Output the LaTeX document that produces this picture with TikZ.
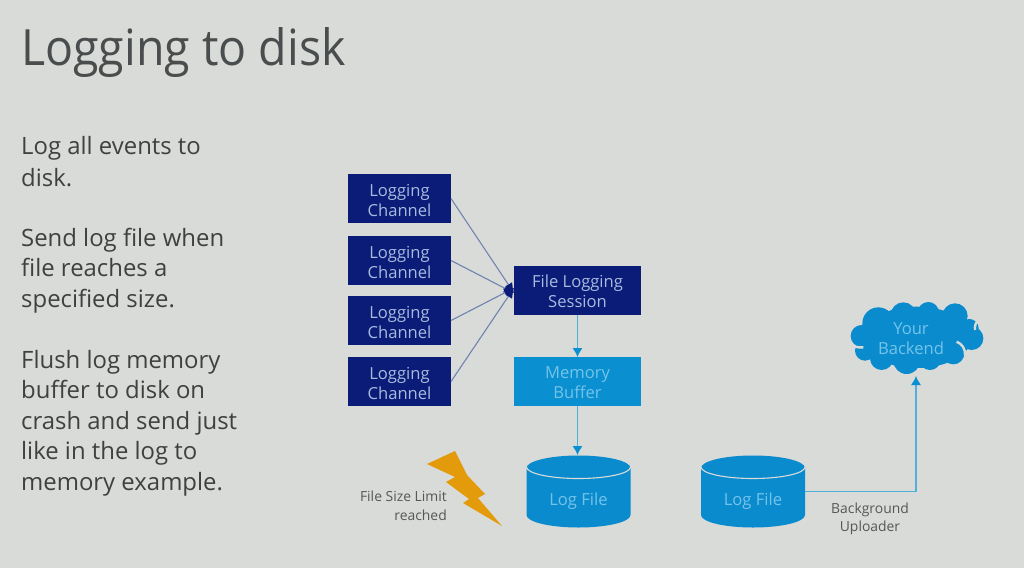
\documentclass[tikz,border=0pt]{standalone}
\usepackage{fontspec}
\setmainfont{Open Sans}
\usetikzlibrary{arrows.meta}
\definecolor{bg}{HTML}{D9DBD8}
\definecolor{navy}{HTML}{0A1C78}
\definecolor{sky}{HTML}{0A8FD0}
\definecolor{drum}{HTML}{0A8BCE}
\definecolor{navytxt}{HTML}{A9BBDD}
\definecolor{skytxt}{HTML}{74C4EA}
\definecolor{wire}{HTML}{6F83B3}
\definecolor{lwire}{HTML}{4FB0DC}
\definecolor{bolt}{HTML}{E39A0B}
\definecolor{ink}{HTML}{3E4140}
\definecolor{titleink}{HTML}{4A4D4D}
\definecolor{small}{HTML}{565857}
\tikzset{
  x=1pt,y=-1pt,
  base/.style={inner sep=0pt,outer sep=0pt,align=center,font=\fontsize{16.6}{20}\selectfont},
  navytext/.style={base,text=navytxt},
  skytext/.style={base,text=skytxt},
  channel/.style={base,fill=navy,minimum width=103,minimum height=49,label={[navytext,yshift=-1.7]center:Logging\\Channel}},
  session/.style={base,fill=navy,minimum width=127,minimum height=49,label={[navytext,yshift=-1]center:File Logging\\Session}},
  buffer/.style={base,fill=sky,minimum width=127,minimum height=49,label={[skytext,yshift=-1.5]center:Memory\\Buffer}},
  drumbox/.style={base,minimum width=104,minimum height=72,label={[skytext,yshift=-10]center:Log File}},
  para/.style={inner sep=0pt,anchor=north west,align=left,text=ink,font=\fontsize{23.9}{30.5}\selectfont},
  caption/.style={inner sep=0pt,text=small,font=\fontsize{13.9}{18.5}\selectfont},
  fan/.style={draw=wire,line width=1.1,-{Latex[length=10,width=9,color=navy]}},
  feed/.style={draw=lwire,line width=1.1,-{Latex[length=9,width=10,color=sky]}},
}
\newcommand{\drumshape}[1]{%
  \fill[drum] (#1-52,468) -- (#1-52,515) arc[start angle=180,end angle=0,x radius=52,y radius=12.5] -- (#1+52,468) arc[start angle=0,end angle=-180,x radius=52,y radius=12.5] -- cycle;
  \draw[bg,line width=1.1] (#1-52,467) arc[start angle=180,end angle=0,x radius=52,y radius=11.5];
}
\begin{document}
\begin{tikzpicture}
\useasboundingbox (0,0) rectangle (1024,568);
\fill[bg] (0,0) rectangle (1024,568);
\node[inner sep=0pt,anchor=west,text=titleink,font=\fontsize{50}{56}\selectfont] (title) at (21,53) {\scalebox{.93}[1]{Logging to disk}};
\node[para,font=\fontsize{23.9}{32.5}\selectfont] (p1) at (21,136) {Log all events to\\disk.};
\node[para] (p2) at (21,228) {Send log file when\\file reaches a\\specified size.};
\node[para] (p3) at (21,350) {Flush log memory\\buffer to disk on\\crash and send just\\like in the log to\\memory example.};

\node[channel] (c1) at (399.5,198.5) {};
\node[channel] (c2) at (399.5,260.5) {};
\node[channel] (c3) at (399.5,320.5) {};
\node[channel] (c4) at (399.5,381.5) {};
\node[session] (fls) at (577.5,290.5) {};
\node[buffer] (mem) at (577.5,381.5) {};

\fill[bolt] (427,464) -- (455,451) -- (467,475) -- (485,494) -- (478,498) -- (502,526) -- (463,503) -- (469,499) -- (446,482) -- (455,477) -- cycle;
\node[caption,anchor=north east,align=right] (limit) at (447,491) {File Size Limit\\reached};

\drumshape{578.5}
\node[drumbox] (log1) at (578.5,491) {};
\drumshape{753}
\node[drumbox] (log2) at (753,491.5) {};

\begin{scope}[shift={(690,290)},x=1/3*1pt,y=-1/3*1pt]
  \fill[drum] (680,142) ellipse[x radius=165,y radius=92];
  \foreach \cx/\cy/\r in {515/138/33,525/182/30,565/100/48,640/75/38,715/68/32,795/78/38,838/115/28,845/145/35,790/190/33,720/208/32,650/212/40,575/205/35,610/120/50}
    \fill[drum] (\cx,\cy) circle[radius=\r];
  \draw[bg,line width=2.4] (495,170) to[bend right=10] (520,172);
  \draw[bg,line width=2.4] (800,155) to[bend left=35] (825,195);
  \draw[bg,line width=2.4] (855,120) to[bend left=25] (865,90);
\end{scope}
\node[inner sep=0pt,outer sep=0pt,minimum width=134,minimum height=74] (cloud) at (916,339) {};
\node[skytext] (cloudtext) at (911,339) {Your\\Backend};

\node[caption,align=center] (bu) at (870,519) {Background\\Uploader};

\foreach \n/\dy in {c1/-2.5,c2/-2.5,c3/2.5,c4/2.5}
  \draw[fan] (\n.east) -- ([yshift=\dy]fls.west);
\draw[feed] (fls.south) -- (mem.north);
\draw[feed] (mem.south) -- (mem.south |- log1.north);
\draw[feed] (log2.east) -| (cloud.south);
\end{tikzpicture}
\end{document}
